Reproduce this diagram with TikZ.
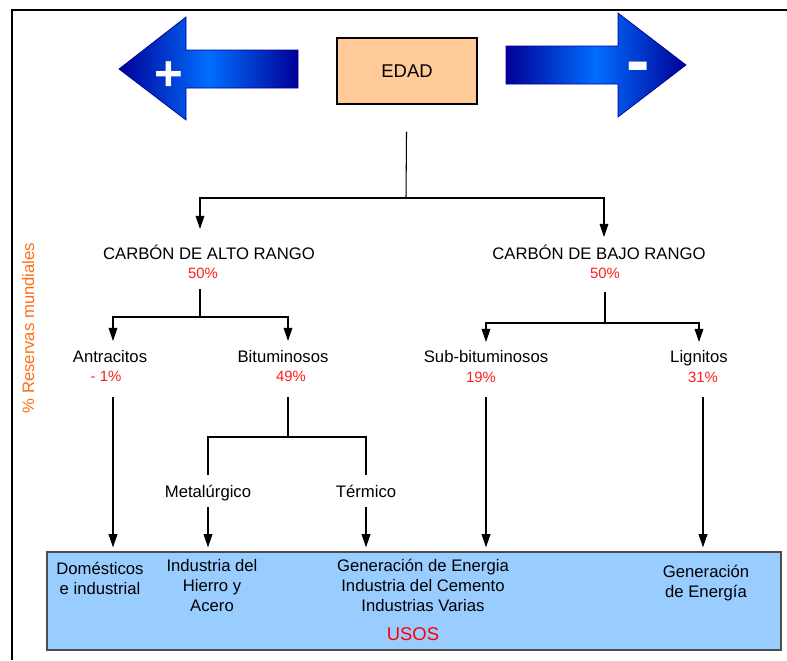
\documentclass[tikz,border=0pt]{standalone}
\usepackage{fontspec}
\setmainfont{Liberation Sans}
\usepackage{tikz}
\usetikzlibrary{arrows.meta}
\definecolor{navyA}{RGB}{0,0,150}
\definecolor{blueA}{RGB}{0,110,255}
\definecolor{peachA}{RGB}{255,204,153}
\definecolor{skyA}{RGB}{153,204,255}
\definecolor{orangeA}{RGB}{255,110,20}
\definecolor{redA}{RGB}{255,30,30}
\tikzstyle{edge}=[line width=0.6pt]
\tikzstyle{arr}=[edge, -{Triangle[width=5pt,length=7.5pt]}]
\tikzstyle{arrU}=[arr, shorten >=0.08cm]
\tikzstyle{bigArrow}=[draw=navyA, line width=0.4pt, left color=navyA, right color=navyA, middle color=blueA]
\tikzstyle{lbl}=[inner sep=0pt, anchor=base, align=center, font=\fontsize{9.5}{11.3}\selectfont]
\tikzstyle{pct}=[inner sep=0pt, anchor=base, text=redA, font=\fontsize{8.5}{10}\selectfont]

\begin{document}
\begin{tikzpicture}[x=0.02cm, y=-0.02cm]
    \useasboundingbox (0,0) rectangle (787,660);

    %%%%%  Marco  %%%%%
    \draw[line width=1.4pt] (12,660) -- (12,10) -- (787,10);

    %%%%%  Flechas de edad  %%%%%
    \path[bigArrow] (119,69) -- (186,17) -- (186,50) -- (298,50) -- (298,88)
        -- (186,88) -- (186,120) -- cycle;
    \path[bigArrow] (506,46) -- (618,46) -- (618,13) -- (686,65) -- (618,117)
        -- (618,84) -- (506,84) -- cycle;
    \node (mas)   [anchor=base, text=white, font=\fontsize{28}{28}\bfseries\selectfont] at (169,90) {+};
    \node (menos) [anchor=base, text=white, font=\fontsize{40}{40}\bfseries\selectfont] at (638,84) {-};
    \node (edad)  [draw, fill=peachA, line width=0.6pt, minimum width=2.8cm, minimum height=1.32cm,
                   font=\fontsize{10.5}{12}\selectfont] at (407,71) {EDAD};

    %%%%%  Rangos  %%%%%
    \node (alto)  [lbl] at (209,259) {CARBÓN DE ALTO RANGO};
    \node (altoP) [pct] at (203,278) {50\%};
    \node (bajo)  [lbl] at (599,259) {CARBÓN DE BAJO RANGO};
    \node (bajoP) [pct] at (605,278) {50\%};

    \node (antr)  [lbl] at (110,362) {Antracitos};
    \node (antrP) [pct] at (106,381) {- 1\%};
    \node (bitu)  [lbl] at (283,362) {Bituminosos};
    \node (bituP) [pct] at (291,381) {49\%};
    \node (subb)  [lbl] at (486,362) {Sub-bituminosos};
    \node (subbP) [pct] at (481,382) {19\%};
    \node (lign)  [lbl] at (699,362) {Lignitos};
    \node (lignP) [pct] at (703,382) {31\%};

    \node (meta)  [lbl] at (208,497) {Metalúrgico};
    \node (term)  [lbl] at (366,497) {Térmico};

    \node (reservas) [inner sep=0pt, anchor=base, rotate=90, text=orangeA,
                      font=\fontsize{9.5}{11}\selectfont] at (34,328) {\% Reservas mundiales};

    %%%%%  Usos  %%%%%
    \node (usos) [draw=black!70, fill=skyA, line width=0.8pt, minimum width=14.68cm,
                  minimum height=1.96cm] at (414,601) {};
    \node (uDom) [lbl] at (100,594) {Domésticos\\e industrial};
    \node (uHie) [lbl] at (212,611) {Industria del\\Hierro y\\Acero};
    \node (uGen) [lbl] at (423,611) {Generación de Energia\\Industria del Cemento\\Industrias Varias};
    \node (uEne) [lbl] at (706,597) {Generación\\de Energía};
    \node (uTit) [inner sep=0pt, anchor=base, text=red, font=\fontsize{10.5}{12}\selectfont]
                 at (413,640) {USOS};

    %%%%%  Conectores  %%%%%
    \coordinate (j0)    at (406,198);
    \coordinate (tAlto) at (200,229);
    \coordinate (tBajo) at (604,237);
    \draw[edge, shorten <=0.54cm] (edad) -- (j0);
    \draw[arr] (j0) -| (tAlto);
    \draw[arr] (j0) -| (tBajo);

    \coordinate (s1)    at (200,289);
    \coordinate (j1)    at (200,317);
    \coordinate (tAntr) at (113,341);
    \coordinate (tBitu) at (288,341);
    \draw[edge] (s1) -- (j1);
    \draw[arr] (j1) -| (tAntr);
    \draw[arr] (j1) -| (tBitu);

    \coordinate (s2)    at (605,292);
    \coordinate (j2)    at (605,323);
    \coordinate (tSubb) at (486,342);
    \coordinate (tLign) at (699,342);
    \draw[edge] (s2) -- (j2);
    \draw[arr] (j2) -| (tSubb);
    \draw[arr] (j2) -| (tLign);

    \coordinate (sBitu) at (288,397);
    \coordinate (j3)    at (288,437);
    \coordinate (tMeta) at (208,475);
    \coordinate (tTerm) at (366,475);
    \draw[edge] (sBitu) -- (j3);
    \draw[edge] (j3) -| (tMeta);
    \draw[edge] (j3) -| (tTerm);

    \coordinate (sAntr) at (113,397);
    \coordinate (sMeta) at (208,507);
    \coordinate (sTerm) at (366,507);
    \coordinate (sSubb) at (486,397);
    \coordinate (sLign) at (703,397);
    \foreach \s in {sAntr, sMeta, sTerm, sSubb, sLign}
      \draw[arrU] (\s) -- (\s |- usos.north);
\end{tikzpicture}
\end{document}
